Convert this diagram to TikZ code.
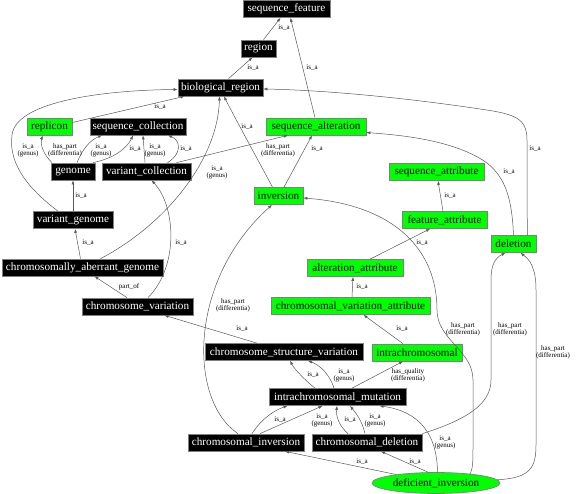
\documentclass[tikz,border=0pt]{standalone}
\usepackage{fontspec}
\setmainfont{Liberation Serif}
\usetikzlibrary{arrows.meta,shapes.geometric}
\begin{document}
\begin{tikzpicture}[x=1pt,y=-1pt,
  box/.style={draw=black!50, line width=0.7pt, minimum height=17pt, inner sep=0pt,
    font=\fontsize{11.2}{12}\selectfont},
  blk/.style={box, fill=black, text=white},
  grn/.style={box, fill=green, text=black},
  ell/.style={ellipse, draw=black!50, line width=0.7pt, fill=green, inner sep=0pt,
    font=\fontsize{11.2}{12}\selectfont},
  edge/.style={draw=black!65, line width=0.5pt, -{Latex[length=4pt,width=3pt]}},
  lbl/.style={font=\fontsize{7}{7}\selectfont, align=center, inner sep=0pt}]
\useasboundingbox (0,0) rectangle (576,494);

% nodes
\node[blk,minimum width=87pt] (sf) at (286.5,9) {sequence\_feature};
\node[blk,minimum width=35pt] (reg) at (258.5,48.5) {region};
\node[blk,minimum width=85pt] (br) at (220.5,87.5) {biological\_region};
\node[grn,minimum width=45pt] (rep) at (49.5,126.5) {replicon};
\node[blk,minimum width=96pt] (sc) at (138,126.5) {sequence\_collection};
\node[grn,minimum width=100pt] (sa) at (316,126.5) {sequence\_alteration};
\node[blk,minimum width=44pt] (gen) at (73,171.5) {genome};
\node[blk,minimum width=89pt] (vc) at (146.5,171.5) {variant\_collection};
\node[grn,minimum width=49pt] (inv) at (278.5,196) {inversion};
\node[grn,minimum width=95pt] (satt) at (436.5,172) {sequence\_attribute};
\node[grn,minimum width=85pt] (fatt) at (444.5,220) {feature\_attribute};
\node[grn,minimum width=45pt] (del) at (513.5,244) {deletion};
\node[blk,minimum width=80pt] (vg) at (73,220) {variant\_genome};
\node[blk,minimum width=161pt] (cag) at (82.5,267.5) {chromosomally\_aberrant\_genome};
\node[grn,minimum width=96pt] (aatt) at (355,268) {alteration\_attribute};
\node[blk,minimum width=111pt] (cv) at (137.5,306.5) {chromosome\_variation};
\node[grn,minimum width=159pt] (cvatt) at (350.5,306) {chromosomal\_variation\_attribute};
\node[blk,minimum width=158pt] (csv) at (284,352) {chromosome\_structure\_variation};
\node[grn,minimum width=90pt] (intra) at (417,352.5) {intrachromosomal};
\node[blk,minimum width=137pt] (im) at (337.5,397) {intrachromosomal\_mutation};
\node[blk,minimum width=116pt] (ci) at (246,442.5) {chromosomal\_inversion};
\node[blk,minimum width=110pt] (cd) at (367,442.5) {chromosomal\_deletion};
\node[ell,minimum width=128pt,minimum height=21pt] (di) at (436,483) {deficient\_inversion};

% edges
\draw[edge] ([xshift=5]reg.north) -- ([xshift=-6]sf.south);
\node[lbl] at (284,28) {is\_a};
\draw[edge] ([xshift=8]br.north) -- ([xshift=-6]reg.south);
\node[lbl] at (253,68) {is\_a};
\draw[edge] ([xshift=-1]sa.north) -- ([xshift=4]sf.south);
\node[lbl] at (312,68) {is\_a};
\draw[edge] ([yshift=4]rep.east) -- ([xshift=-36]br.south);
\node[lbl] at (160,107) {is\_a};
\draw[edge] ([xshift=-15]vg.north) .. controls (30,190) and (8,165) .. (12,135)
  .. controls (16,100) and (110,90) .. ([yshift=-2]br.west);
\node[lbl] at (28,150) {is\_a\\(genus)};
\draw[edge] ([xshift=-21]gen.north) .. controls (44,155) and (40,145) .. ([xshift=-7]rep.south);
\node[lbl] at (65,150) {has\_part\\(differentia)};
\draw[edge] ([xshift=4]gen.north) .. controls (82,150) and (90,140) .. ([xshift=-36]sc.south);
\node[lbl] at (101,150) {is\_a\\(genus)};
\draw[edge] ([xshift=20]gen.north) .. controls (115,158) and (127,148) .. ([xshift=-5]sc.south);
\node[lbl] at (135,149) {is\_a};
\draw[edge] ([xshift=-1.5]vc.north) -- ([xshift=5]sc.south);
\node[lbl] at (155,150) {is\_a\\(genus)};
\draw[edge] ([xshift=21]vc.north) .. controls (183,153) and (180,140) .. ([xshift=30]sc.south);
\node[lbl] at (186,149) {is\_a};
\draw[edge] ([xshift=30]vc.north) -- ([xshift=-28]sa.south);
\node[lbl] at (278,150) {has\_part\\(differentia)};
\draw[edge] (vg.north) -- (gen.south);
\node[lbl] at (81,196) {is\_a};
\draw[edge] ([xshift=-2]cag.north) -- ([xshift=2]vg.south);
\node[lbl] at (88,243) {is\_a};
\draw[edge] ([xshift=18]cag.north) .. controls (165,225) and (218,160) .. ([xshift=-1]br.south);
\node[lbl] at (217,172) {is\_a\\(genus)};
\draw[edge] ([xshift=-10.5]cv.north) -- ([xshift=12]cag.south);
\node[lbl] at (129,287) {part\_of};
\draw[edge] ([xshift=10.5]cv.north) .. controls (180,265) and (175,205) .. ([xshift=5]vc.south);
\node[lbl] at (181,243) {is\_a};
\draw[edge] ([xshift=-6]inv.north) .. controls (258,160) and (236,120) .. ([xshift=3.5]br.south);
\node[lbl] at (247,127) {is\_a};
\draw[edge] ([xshift=5.5]inv.north) -- ([xshift=-4]sa.south);
\node[lbl] at (317,149) {is\_a};
\draw[edge] ([xshift=-27]csv.north) -- ([xshift=27]cv.south);
\node[lbl] at (242,329) {is\_a};
\draw[edge] ([xshift=-8]ci.north) .. controls (188,400) and (188,280) .. ([xshift=-6.5]inv.south);
\node[lbl] at (233,305) {has\_part\\(differentia)};
\draw[edge] (di.15) .. controls (473,468) and (473,460) .. (473,445) -- (473,380)
  .. controls (473,350) and (437,340) .. (437,310)
  .. controls (437,250) and (395,205) .. ([yshift=-2]inv.east);
\node[lbl] at (463,329) {has\_part\\(differentia)};
\draw[edge] (cd.north east) .. controls (465,420) and (491,405) .. (491,380) -- (491,280)
  .. controls (491,265) and (495,258) .. ([xshift=-8]del.south);
\node[lbl] at (510,329) {has\_part\\(differentia)};
\draw[edge] (di.3) .. controls (530,478) and (536,468) .. (536,445) -- (536,290)
  .. controls (536,268) and (530,260) .. ([xshift=7]del.south);
\node[lbl] at (553,352) {has\_part\\(differentia)};
\draw[edge] ([xshift=1.5]di.north) .. controls (437,425) and (410,410) .. ([xshift=42]im.south);
\node[lbl] at (445,442) {is\_a\\(genus)};
\draw[edge] ([xshift=-8]di.north) -- ([xshift=14]cd.south);
\node[lbl] at (415,462) {is\_a};
\draw[edge] (di.168) -- ([xshift=39]ci.south);
\node[lbl] at (362,462) {is\_a};
\draw[edge] ([xshift=6]ci.north) .. controls (262,418) and (275,410) .. ([xshift=-50]im.south);
\node[lbl] at (280,420) {is\_a};
\draw[edge] ([xshift=14]ci.north) -- ([xshift=-15]im.south);
\node[lbl] at (322,420) {is\_a\\(genus)};
\draw[edge] ([xshift=-19]cd.north) .. controls (338,425) and (336,415) .. ([xshift=-0.5]im.south);
\node[lbl] at (350,420) {is\_a};
\draw[edge] ([xshift=-2]cd.north) .. controls (362,420) and (355,412) .. ([xshift=12.5]im.south);
\node[lbl] at (375,420) {is\_a\\(genus)};
\draw[edge] ([xshift=-22.5]im.north) .. controls (305,380) and (295,370) .. ([xshift=6]csv.south);
\node[lbl] at (313,375) {is\_a};
\draw[edge] ([xshift=-3.5]im.north) .. controls (330,375) and (320,365) .. ([xshift=24]csv.south);
\node[lbl] at (344,375) {is\_a\\(genus)};
\draw[edge] ([xshift=14.5]im.north) -- ([xshift=-14]intra.south);
\node[lbl] at (408,375) {has\_quality\\(differentia)};
\draw[edge] ([xshift=-14]intra.north) -- ([xshift=13]cvatt.south);
\node[lbl] at (402,329) {is\_a};
\draw[edge] ([xshift=1.5]cvatt.north) -- ([xshift=-2]aatt.south);
\node[lbl] at (362,287) {is\_a};
\draw[edge] ([xshift=15]aatt.north) -- ([xshift=-14.5]fatt.south);
\node[lbl] at (422,243) {is\_a};
\draw[edge] ([xshift=-1.5]fatt.north) -- ([xshift=1.5]satt.south);
\node[lbl] at (450,196) {is\_a};
\draw[edge] (del.north) .. controls (512,200) and (506,178) .. (487,163)
  .. controls (455,140) and (400,135) .. ([yshift=-6]sa.east);
\node[lbl] at (509,172) {is\_a};
\draw[edge] ([xshift=14]del.north) .. controls (527,210) and (527,180) .. (527,140)
  .. controls (527,118) and (515,114) .. (480,109)
  .. controls (400,97) and (320,90) .. ([yshift=-1.5]br.east);
\node[lbl] at (535,149) {is\_a};
\end{tikzpicture}
\end{document}
